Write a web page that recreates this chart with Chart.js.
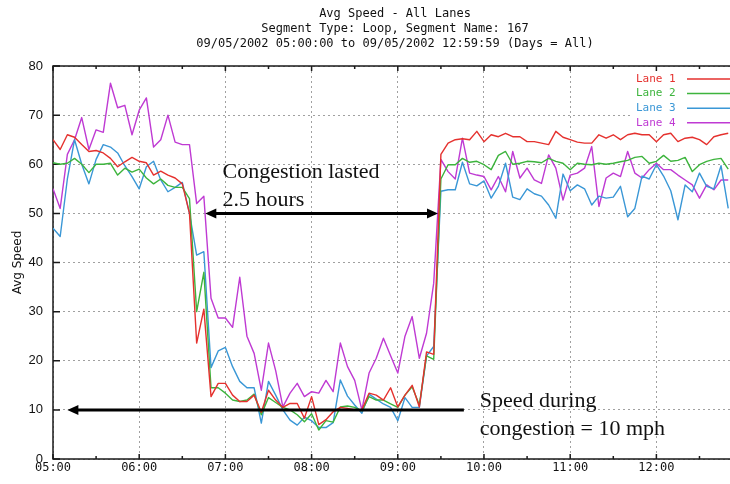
<!DOCTYPE html>
<html>
<head>
<meta charset="utf-8">
<title>Avg Speed - All Lanes</title>
<script src="https://cdn.jsdelivr.net/npm/chart.js@4.4.1/dist/chart.umd.min.js"></script>
<style>
  html, body { margin: 0; padding: 0; background: #fff; overflow: hidden; }
  #wrap { width: 790px; height: 484px; }
</style>
</head>
<body>
<div id="wrap"><canvas id="speedChart" width="790" height="484"></canvas></div>
<script>
// === DADOS ===
const titleLines = [
  "Avg Speed - All Lanes",
  "Segment Type: Loop, Segment Name: 167",
  "09/05/2002 05:00:00 to 09/05/2002 12:59:59 (Days = All)",
];

const times = [
  "05:00","05:05","05:10","05:15","05:20","05:25","05:30","05:35","05:40","05:45","05:50","05:55",
  "06:00","06:05","06:10","06:15","06:20","06:25","06:30","06:35","06:40","06:45","06:50","06:55",
  "07:00","07:05","07:10","07:15","07:20","07:25","07:30","07:35","07:40","07:45","07:50","07:55",
  "08:00","08:05","08:10","08:15","08:20","08:25","08:30","08:35","08:40","08:45","08:50","08:55",
  "09:00","09:05","09:10","09:15","09:20","09:25","09:30","09:35","09:40","09:45","09:50","09:55",
  "10:00","10:05","10:10","10:15","10:20","10:25","10:30","10:35","10:40","10:45","10:50","10:55",
  "11:00","11:05","11:10","11:15","11:20","11:25","11:30","11:35","11:40","11:45","11:50","11:55",
  "12:00","12:05","12:10","12:15","12:20","12:25","12:30","12:35","12:40","12:45","12:50",
];

const lane1 = [
  65, 63, 66, 65.5, 64, 62.6, 62.8, 62.3, 61.2, 59.5, 60.5, 61.4,
  60.6, 60.3, 57.8, 58.6, 57.8, 57.2, 56, 50, 23.6, 30.5, 12.7, 15.4,
  15.4, 13, 11.7, 11.7, 13, 9.5, 14, 12, 10.5, 11.3, 11.3, 8.3,
  12.7, 7, 8, 9.6, 10.5, 10.3, 10, 10, 13.4, 13, 12, 14.5,
  10.6, 13, 15, 10.6, 21.8, 21.3, 62, 64.3, 65, 65.2, 65, 66.7,
  64.6, 66, 65.6, 66.3, 65.6, 65.6, 64.6, 64.6, 64.3, 64, 66.7, 65.5,
  65, 64.5, 64.3, 64.3, 66, 65.3, 66, 65, 66, 66.3, 66, 66,
  64.6, 66, 66.3, 64.6, 65.3, 65.5, 65, 64, 65.6, 66, 66.3,
];

const lane2 = [
  60.3, 60, 60.2, 61.2, 60, 58.3, 60, 60, 60.2, 57.8, 59.2, 58.4,
  59, 57.2, 56, 57, 55.7, 55.3, 55.3, 53, 30, 38, 14.5, 14.5,
  13.4, 12, 11.7, 12, 13.2, 9, 12.5, 11.5, 10.5, 10, 9, 7.6,
  9.2, 5.9, 7.8, 7.5, 10.6, 10.8, 10.5, 9.8, 12.7, 12, 12, 11.2,
  10.5, 13, 14.7, 11, 21, 20.3, 57, 59.9, 59.9, 61.2, 60.4, 60.6,
  59.9, 58.9, 61.8, 62.6, 60, 60.2, 60.6, 60.5, 60.3, 61.2, 60.6, 60.2,
  58.9, 60.2, 60, 59.9, 60.2, 60, 60.2, 60.5, 60.8, 61.4, 61.6, 60.2,
  60.6, 61.8, 60.6, 60.8, 61.4, 58.5, 59.9, 60.6, 61, 61.2, 59,
];

const lane3 = [
  47, 45.3, 57, 65, 60, 56, 61, 64, 63.5, 62.3, 59.7, 57.5,
  55, 59.5, 60.6, 56.8, 54.4, 55.3, 56.3, 50, 41.5, 42.2, 18.6, 22,
  22.7, 18.8, 15.8, 14.5, 14.5, 7.3, 15.8, 13, 10, 7.9, 6.9, 8.5,
  7.8, 6.4, 6.4, 7.4, 16.1, 12.8, 11, 9.3, 13.2, 12.2, 11.2, 10.5,
  7.8, 12.5, 10.5, 10.5, 21, 22.9, 54.5, 54.8, 54.8, 60.4, 56, 55.6,
  56.6, 53.1, 55.5, 60.2, 53.3, 52.8, 55, 54, 53.5, 51.7, 49, 58,
  54.6, 55.8, 55, 51.7, 53.5, 53.1, 53.3, 55.5, 49.3, 51, 57.6, 57,
  59.9, 57.6, 54.6, 48.7, 55.8, 54.4, 58.2, 55.5, 55, 59.7, 51,
];

const lane4 = [
  55, 51, 62, 65, 69.5, 63, 67, 66.5, 76.5, 71.5, 72, 66,
  71, 73.5, 63.5, 65, 70, 64.5, 64, 64, 52, 53.5, 32.7, 28.7,
  28.7, 26.8, 37, 25, 21.5, 14, 23.6, 18, 10.6, 13.4, 15.4, 12.7,
  13.7, 13.4, 16, 13.7, 23.6, 18.8, 16, 10, 17.5, 20.5, 24.6, 21,
  17.5, 25, 29, 20.5, 25.6, 35.8, 61, 58.5, 57, 65.3, 58.2, 57.8,
  57.5, 54.8, 57.5, 54.4, 62.6, 57.2, 59.2, 56.8, 56.1, 61.9, 59.2, 52.7,
  57.8, 58.2, 59.2, 63.6, 51.4, 57.2, 58.2, 57.5, 62.6, 58.2, 57.2, 58.9,
  60.2, 58.9, 58.9, 57.8, 56.8, 55.8, 53.1, 55.8, 54.8, 56.8, 56.8,
];

const laneNames = ["Lane 1", "Lane 2", "Lane 3", "Lane 4"];
const laneColors = ["#e5312e", "#3db43d", "#3a97d6", "#bf3ad3"];
const lanes = [lane1, lane2, lane3, lane4];

// anotações (tempo, velocidade)
const congestionSpan = ["06:46", "09:28"];
const congestionMark = 50;
const jamSpan = ["05:10", "09:46"];
const jamSpeed = 10;
const notes = [
  { text: "Congestion lasted", at: ["06:58", 57.3] },
  { text: "2.5 hours", at: ["06:58", 51.6] },
  { text: "Speed during", at: ["09:57", 10.6] },
  { text: "congestion = 10 mph", at: ["09:57", 4.8] },
];

// minutos desde 05:00
function toMinutes(t) {
  const [h, m] = t.split(":").map(Number);
  return (h - 5) * 60 + m;
}

function fmtTime(v) {
  const h = 5 + Math.floor(v / 60);
  const m = Math.round(v % 60);
  return String(h).padStart(2, "0") + ":" + String(m).padStart(2, "0");
}

// === MOLDURA E MARCAS INTERNAS ===
const framePlugin = {
  id: "frame",
  beforeDatasetsDraw(chart) {
    const { ctx, chartArea: a, scales } = chart;
    ctx.save();
    // caixa branca da legenda
    ctx.fillStyle = "#fff";
    ctx.fillRect(630, a.top + 1, a.right - 630, 64);

    ctx.strokeStyle = "#1a1a1a";
    ctx.lineWidth = 1.5;
    ctx.strokeRect(a.left, a.top, a.right - a.left, a.bottom - a.top);

    ctx.beginPath();
    scales.y.ticks.forEach((t) => {
      const y = scales.y.getPixelForValue(t.value);
      ctx.moveTo(a.left, y);
      ctx.lineTo(a.left + 7, y);
    });
    for (let v = 0; v <= scales.x.max; v += 30) {
      const x = scales.x.getPixelForValue(v);
      const len = v % 60 === 0 ? 5 : 3;
      ctx.moveTo(x, a.bottom);
      ctx.lineTo(x, a.bottom - len);
      ctx.moveTo(x, a.top);
      ctx.lineTo(x, a.top + len);
    }
    ctx.stroke();
    ctx.restore();
  },
};

// === SETAS E TEXTOS ===
function drawArrow(ctx, x1, x2, y, bothEnds) {
  const hl = 11, hw = 5;
  ctx.beginPath();
  ctx.moveTo(x1 + hl - 1, y);
  ctx.lineTo(bothEnds ? x2 - hl + 1 : x2, y);
  ctx.stroke();
  ctx.beginPath();
  ctx.moveTo(x1, y);
  ctx.lineTo(x1 + hl, y - hw);
  ctx.lineTo(x1 + hl, y + hw);
  ctx.closePath();
  ctx.fill();
  if (bothEnds) {
    ctx.beginPath();
    ctx.moveTo(x2, y);
    ctx.lineTo(x2 - hl, y - hw);
    ctx.lineTo(x2 - hl, y + hw);
    ctx.closePath();
    ctx.fill();
  }
}

const notesPlugin = {
  id: "notes",
  afterDatasetsDraw(chart) {
    const { ctx, scales } = chart;
    const x = scales.x, y = scales.y;
    ctx.save();
    ctx.strokeStyle = "#000";
    ctx.fillStyle = "#000";
    ctx.lineWidth = 3;
    drawArrow(ctx, x.getPixelForValue(toMinutes(congestionSpan[0])),
      x.getPixelForValue(toMinutes(congestionSpan[1])), y.getPixelForValue(congestionMark), true);
    drawArrow(ctx, x.getPixelForValue(toMinutes(jamSpan[0])),
      x.getPixelForValue(toMinutes(jamSpan[1])), y.getPixelForValue(jamSpeed), false);

    ctx.font = '22px "Liberation Serif"';
    ctx.fillStyle = "#111";
    ctx.textAlign = "left";
    ctx.textBaseline = "alphabetic";
    notes.forEach((n) => {
      ctx.fillText(n.text, x.getPixelForValue(toMinutes(n.at[0])), y.getPixelForValue(n.at[1]));
    });
    ctx.restore();
  },
  afterDraw(chart) {
    // legenda: texto colorido e amostra de linha à direita
    const { ctx, chartArea: a } = chart;
    ctx.save();
    ctx.font = '11px "DejaVu Sans Mono"';
    ctx.textBaseline = "middle";
    ctx.textAlign = "left";
    chart.data.datasets.forEach((ds, i) => {
      const yy = a.top + 13 + i * 14.6;
      ctx.fillStyle = ds.borderColor;
      ctx.fillText(ds.label, 636, yy);
      ctx.strokeStyle = ds.borderColor;
      ctx.lineWidth = 1.5;
      ctx.beginPath();
      ctx.moveTo(687, yy);
      ctx.lineTo(740, yy);
      ctx.stroke();
    });
    ctx.restore();
  },
};

const datasets = lanes.map((vals, i) => ({
  label: laneNames[i],
  data: vals.map((v, j) => ({ x: toMinutes(times[j]), y: v })),
  borderColor: laneColors[i],
  backgroundColor: laneColors[i],
  borderWidth: 1.4,
  borderJoinStyle: "round",
  pointRadius: 0,
  tension: 0,
}));

const ctx = document.getElementById("speedChart").getContext("2d");
new Chart(ctx, {
  type: "line",
  data: { datasets },
  options: {
    responsive: false,
    animation: false,
    layout: { padding: 0 },
    plugins: {
      legend: { display: false },
      tooltip: { enabled: false },
      title: {
        display: true,
        text: titleLines,
        color: "#111",
        font: { family: "DejaVu Sans Mono", size: 12, lineHeight: 1.25, weight: "normal" },
        padding: { top: 6, bottom: 15 },
      },
    },
    scales: {
      x: {
        type: "linear",
        min: 0,
        max: 513,
        afterFit: (s) => { s.height = 25; },
        grid: { color: "#a0a0a0", lineWidth: 1, drawTicks: false },
        border: { display: false, dash: [2, 3] },
        ticks: {
          stepSize: 60,
          includeBounds: false,
          autoSkip: false,
          maxRotation: 0,
          padding: 2,
          color: "#111",
          font: { family: "DejaVu Sans Mono", size: 12 },
          // a escala de horas termina em 12:59:59, sem rótulo em 13:00
          callback: (v) => (v % 60 === 0 && v < 480 ? fmtTime(v) : null),
        },
      },
      y: {
        min: 0,
        max: 80,
        afterFit: (s) => { s.width = 53; },
        grid: { color: "#a0a0a0", lineWidth: 1, drawTicks: false },
        border: { display: false, dash: [2, 3] },
        ticks: {
          stepSize: 10,
          padding: 10,
          color: "#111",
          font: { family: "Liberation Sans", size: 13 },
        },
        title: {
          display: true,
          text: "Avg Speed",
          color: "#111",
          font: { family: "DejaVu Sans", size: 12 },
          padding: { top: 11, bottom: 0 },
        },
      },
    },
  },
  plugins: [framePlugin, notesPlugin],
});
</script>
</body>
</html>
